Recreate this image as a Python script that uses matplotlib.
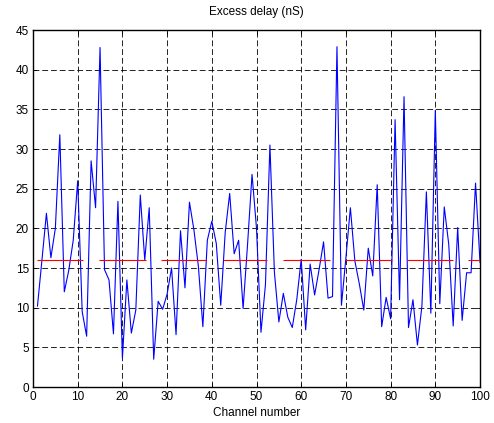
import matplotlib
matplotlib.use("Agg")
import matplotlib.pyplot as plt
import numpy as np

plt.rcParams['font.family'] = ['Liberation Sans', 'DejaVu Sans']

channels = list(range(1, 101))
excess_delay = [
    10.2, 16.0, 21.9, 16.3, 20.0, 31.8, 12.0, 14.7, 18.5, 26.0,
    9.5, 6.4, 28.5, 22.6, 42.8, 14.8, 13.5, 6.7, 23.4, 3.6,
    13.5, 6.8, 9.7, 24.2, 16.0, 22.6, 3.5, 10.8, 9.8, 11.7,
    15.0, 6.6, 19.7, 12.5, 23.3, 19.8, 15.2, 7.6, 18.5, 20.9,
    18.1, 10.3, 19.5, 24.4, 16.8, 18.5, 9.9, 18.0, 26.8, 20.0,
    6.9, 12.9, 30.5, 14.5, 8.2, 11.8, 8.8, 7.5, 11.0, 16.1,
    7.2, 15.5, 11.6, 14.8, 18.3, 11.2, 11.4, 42.9, 10.3, 16.3,
    22.6, 15.9, 13.0, 9.7, 17.5, 14.0, 25.5, 7.6, 11.3, 8.6,
    33.7, 11.0, 36.6, 7.5, 11.0, 5.3, 10.2, 24.6, 9.3, 34.9,
    10.5, 22.7, 18.0, 7.7, 20.1, 8.4, 14.4, 14.4, 25.7, 15.7,
]
mean_level = 16.0
seg_starts = [1.0, 14.8, 28.6, 42.4, 56.0, 69.9, 83.6, 97.2]
seg_ends = [11.2, 25.2, 38.6, 52.4, 66.4, 80.2, 93.9, 100.0]

xticks = list(range(0, 101, 10))
yticks = list(range(0, 46, 5))

fig = plt.figure(figsize=(4.94, 4.23), dpi=100)
ax = fig.add_axes([0.0668, 0.0851, 0.9049, 0.8439])

ax.plot(channels, excess_delay, color=(0, 0, 1), linewidth=0.8, zorder=3)
ax.hlines([mean_level] * len(seg_starts), seg_starts, seg_ends,
          colors=(1, 0, 0), linewidth=0.8, zorder=4)

ax.set_xlim(0, 100)
ax.set_ylim(0, 45)
ax.set_xticks(xticks)
ax.set_yticks(yticks)
ax.tick_params(direction='in', top=True, right=True, length=3, width=0.6,
               labelsize=8.5, pad=3)
ax.grid(True, color='black', linestyle=(0, (7, 3.5)), linewidth=0.6)
for s in ax.spines.values():
    s.set_linewidth(1.0)

ax.set_title('Excess delay (nS)', fontsize=8.5, pad=11)
ax.set_xlabel('Channel number', fontsize=8.5, labelpad=3)

fig.savefig('out.png', dpi=100)
